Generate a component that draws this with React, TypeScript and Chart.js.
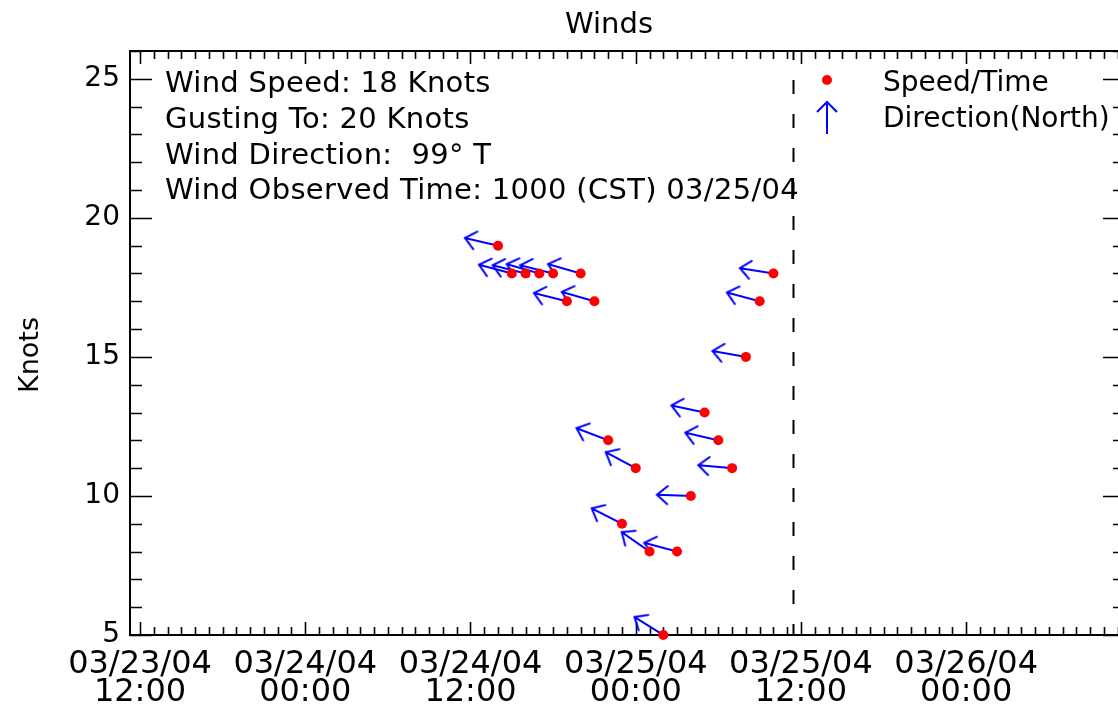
import React, { useEffect, useRef } from 'react';
import { Chart, registerables } from 'chart.js';

Chart.register(...registerables);

// ---- data (hours since 03/23/04 00:00) ----
const obsHours = [38, 39, 40, 41, 42, 43, 44, 45, 46, 47, 48, 49, 50, 51, 52, 53, 54, 55, 56, 57, 58];
const speedKnots = [19, 18, 18, 18, 18, 17, 18, 17, 12, 9, 11, 8, 5, 8, 10, 13, 12, 11, 15, 17, 18];
const dirFromDeg = [103, 105, 104, 106, 104, 104, 106, 106, 111, 117, 118, 125, 122, 105, 92, 102, 103, 95, 100, 105, 99];

const xMajorHours = [12, 24, 36, 48, 60, 72];
const xTickLabels = [
  ['03/23/04', '12:00'],
  ['03/24/04', '00:00'],
  ['03/24/04', '12:00'],
  ['03/25/04', '00:00'],
  ['03/25/04', '12:00'],
  ['03/26/04', '00:00'],
];
const xMin = 11.274;
const xMax = 83.53;
const xMinorStepHours = 1;

const yMajorTicks = [5, 10, 15, 20, 25];
const yMin = 5;
const yMax = 26;
const yMinorStepKnots = 1;

const nowLineHour = 59.42;

const titleText = 'Winds';
const yTitle = 'Knots';
const infoLines = [
  'Wind Speed: 18 Knots',
  'Gusting To: 20 Knots',
  'Wind Direction:  99° T',
  'Wind Observed Time: 1000 (CST) 03/25/04',
];
const legendLabels = ['Speed/Time', 'Direction(North)'];

const FONT = '"DejaVu Sans", sans-serif';
const RED = '#ff0000';
const BLUE = '#0000ff';

function makeArrow(len: number, head: number, halfAngleDeg: number, color: string, lw: number) {
  const size = Math.ceil(len * 2 + 6);
  const c = document.createElement('canvas');
  c.width = size;
  c.height = size;
  const g = c.getContext('2d')!;
  const cx = size / 2;
  const cy = size / 2;
  const a = (halfAngleDeg * Math.PI) / 180;
  g.strokeStyle = color;
  g.lineWidth = lw;
  g.lineCap = 'round';
  g.beginPath();
  g.moveTo(cx, cy);
  g.lineTo(cx, cy - len);
  g.moveTo(cx - head * Math.sin(a), cy - len + head * Math.cos(a));
  g.lineTo(cx, cy - len);
  g.lineTo(cx + head * Math.sin(a), cy - len + head * Math.cos(a));
  g.stroke();
  return c;
}

const framePlugin = {
  id: 'frame',
  beforeDatasetsDraw(chart: any) {
    const { ctx, chartArea: a, scales } = chart;
    const xs = scales.x;
    const ys = scales.y;
    ctx.save();
    ctx.strokeStyle = '#000';
    ctx.lineWidth = 2;
    ctx.strokeRect(a.left, a.top, a.right - a.left, a.bottom - a.top);
    ctx.lineWidth = 1.6;
    ctx.beginPath();
    for (let h = Math.ceil(xMin); h <= xMax; h += xMinorStepHours) {
      const px = Math.round(xs.getPixelForValue(h)) + 0.5;
      const major = xMajorHours.includes(h);
      const L = major ? 13 : 8;
      ctx.moveTo(px, a.bottom);
      ctx.lineTo(px, a.bottom - L);
      ctx.moveTo(px, a.top);
      ctx.lineTo(px, a.top + L);
    }
    for (let v = yMin; v <= yMax; v += yMinorStepKnots) {
      const py = Math.round(ys.getPixelForValue(v)) + 0.5;
      const major = yMajorTicks.includes(v);
      const L = major ? 22 : 12;
      ctx.moveTo(a.left, py);
      ctx.lineTo(a.left + L, py);
      ctx.moveTo(a.right, py);
      ctx.lineTo(a.right - L, py);
    }
    ctx.stroke();
    const nx = Math.round(xs.getPixelForValue(nowLineHour)) + 0.5;
    ctx.lineWidth = 2;
    ctx.setLineDash([14, 20]);
    ctx.lineDashOffset = 5;
    ctx.beginPath();
    ctx.moveTo(nx, a.top);
    ctx.lineTo(nx, a.bottom);
    ctx.stroke();
    ctx.restore();
  },
  afterDraw(chart: any) {
    const { ctx } = chart;
    ctx.save();
    ctx.fillStyle = '#000';
    ctx.textBaseline = 'middle';
    ctx.font = `29px ${FONT}`;
    ctx.textAlign = 'center';
    ctx.fillText(titleText, 609, 25);
    ctx.save();
    ctx.font = `27px ${FONT}`;
    ctx.translate(31, 355);
    ctx.rotate(-Math.PI / 2);
    ctx.fillText(yTitle, 0, 0);
    ctx.restore();
    ctx.font = `29px ${FONT}`;
    ctx.textAlign = 'left';
    try {
      (ctx as any).letterSpacing = '0.3px';
    } catch (e) {}
    const lineY = [84, 120, 156, 191];
    infoLines.forEach((t, i) => ctx.fillText(t, 165, lineY[i]));
    try {
      (ctx as any).letterSpacing = '0px';
    } catch (e) {}
    ctx.font = `28px ${FONT}`;
    ctx.fillText(legendLabels[0], 883, 84);
    ctx.fillText(legendLabels[1], 883, 120);
    ctx.fillStyle = RED;
    ctx.beginPath();
    ctx.arc(827, 80, 5, 0, Math.PI * 2);
    ctx.fill();
    ctx.restore();
    ctx.save();
    ctx.strokeStyle = BLUE;
    ctx.lineWidth = 2;
    ctx.beginPath();
    ctx.moveTo(827, 134);
    ctx.lineTo(827, 102);
    ctx.moveTo(817, 112);
    ctx.lineTo(827, 102);
    ctx.lineTo(837, 112);
    ctx.stroke();
    ctx.restore();
  },
};

export default function App() {
  const ref = useRef<HTMLCanvasElement | null>(null);

  useEffect(() => {
    document.body.style.margin = '0';
    document.body.style.overflow = 'hidden';
    const canvas = ref.current!;
    const arrowImg = makeArrow(34, 14, 40, BLUE, 2);
    const points = obsHours.map((h, i) => ({ x: h, y: speedKnots[i] }));
    const chart = new Chart(canvas, {
      type: 'scatter',
      data: {
        datasets: [
          {
            label: legendLabels[0],
            data: points,
            pointStyle: 'circle',
            pointRadius: 5,
            pointBackgroundColor: RED,
            pointBorderWidth: 0,
            borderWidth: 0,
            clip: false as any,
          },
          {
            label: legendLabels[1],
            data: points,
            pointStyle: arrowImg as any,
            pointRadius: 5,
            pointRotation: ((c: any) => (dirFromDeg[c.dataIndex] + 180) % 360) as any,
            clip: false as any,
          },
        ],
      },
      options: {
        animation: false,
        responsive: false,
        devicePixelRatio: 1,
        events: [],
        layout: { padding: { top: 51, right: 1, left: 0, bottom: 0 } },
        plugins: {
          legend: { display: false },
          title: { display: false },
          tooltip: { enabled: false },
        },
        scales: {
          x: {
            type: 'linear',
            min: xMin,
            max: xMax,
            afterBuildTicks: (s: any) => {
              s.ticks = xMajorHours.map((v) => ({ value: v }));
            },
            afterFit: (s: any) => {
              s.height = 70;
              s.paddingLeft = 0;
              s.paddingRight = 0;
            },
            ticks: {
              autoSkip: false,
              maxRotation: 0,
              minRotation: 0,
              padding: 16,
              color: '#000',
              font: { family: FONT, size: 32, lineHeight: 0.875 },
              callback: (_v: any, i: number) => xTickLabels[i],
            },
            grid: { display: false, drawTicks: false },
            border: { display: false },
          },
          y: {
            type: 'linear',
            min: yMin,
            max: yMax,
            afterBuildTicks: (s: any) => {
              s.ticks = yMajorTicks.map((v) => ({ value: v }));
            },
            afterFit: (s: any) => {
              s.width = 130;
              s.paddingTop = 0;
              s.paddingBottom = 0;
            },
            ticks: {
              padding: 10,
              color: '#000',
              font: { family: FONT, size: 28 },
              callback: (v: any) => String(v),
            },
            grid: { display: false, drawTicks: false },
            border: { display: false },
          },
        },
      },
      plugins: [framePlugin],
    });
    return () => chart.destroy();
  }, []);

  return (
    <div style={{ width: 1131, height: 705, background: '#fff' }}>
      <canvas ref={ref} width={1131} height={705} style={{ display: 'block' }} />
    </div>
  );
}
